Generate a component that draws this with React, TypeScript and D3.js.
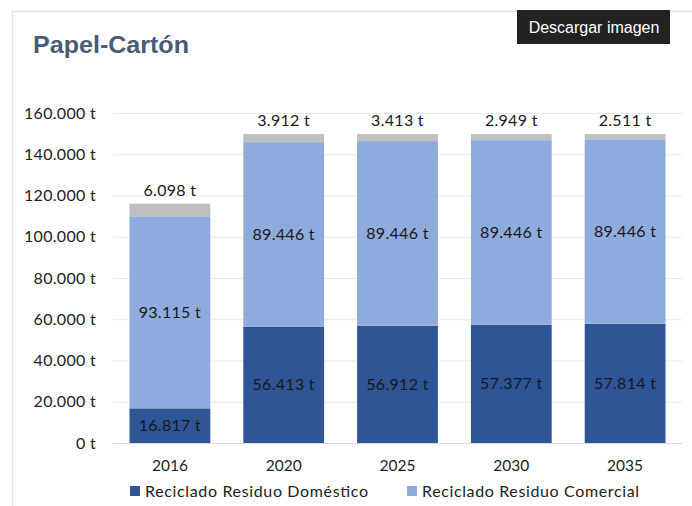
import React, { useEffect, useRef } from 'react';
import * as d3 from 'd3';

const years = ['2016', '2020', '2025', '2030', '2035'];
const domestico = [16817, 56413, 56912, 57377, 57814];
const comercial = [93115, 89446, 89446, 89446, 89446];
const resto = [6098, 3912, 3413, 2949, 2511];
const yTicks = [0, 20000, 40000, 60000, 80000, 100000, 120000, 140000, 160000];
const seriesNames = ['Reciclado Residuo Doméstico', 'Reciclado Residuo Comercial'];

const colors = ['#2f5597', '#8faadc', '#bfbfbf'];
const font = 'Lato, "Open Sans", sans-serif';

const locale = d3.formatLocale({ decimal: ',', thousands: '.', grouping: [3], currency: ['', ' €'] });
const fmt = (v: number) => `${locale.format(',d')(v)} t`;

const App: React.FC = () => {
  const svgRef = useRef<SVGSVGElement>(null);

  useEffect(() => {
    if (!svgRef.current) return;
    const svg = d3.select(svgRef.current);
    svg.selectAll('*').remove();

    const width = 692;
    const height = 506;
    svg.attr('width', width).attr('height', height);

    // frame
    svg.append('path')
      .attr('d', `M12.5,${height} L12.5,11.5 L${width},11.5`)
      .attr('fill', 'none')
      .attr('stroke', '#e3e3e3')
      .attr('stroke-width', 1.5);

    // title
    svg.append('text')
      .attr('x', 33)
      .attr('y', 53)
      .attr('font-family', '"Liberation Sans", Arial, sans-serif')
      .attr('font-weight', 'bold')
      .attr('font-size', 23.5)
      .attr('textLength', 156)
      .attr('lengthAdjust', 'spacingAndGlyphs')
      .attr('fill', '#4b5b75')
      .text('Papel-Cartón');

    // button
    svg.append('rect')
      .attr('x', 517).attr('y', 10).attr('width', 153).attr('height', 34)
      .attr('fill', '#222222');
    svg.append('text')
      .attr('x', 594).attr('y', 33)
      .attr('text-anchor', 'middle')
      .attr('font-family', '"Liberation Sans", Arial, sans-serif')
      .attr('font-size', 16)
      .attr('fill', '#ffffff')
      .text('Descargar imagen');

    const x = d3.scaleBand().domain(years).range([113, 682]).paddingInner(0.29).paddingOuter(0.145);
    const y = d3.scaleLinear().domain([0, 160000]).range([443, 113]);

    // gridlines
    svg.append('g')
      .selectAll('line')
      .data(yTicks)
      .enter()
      .append('line')
      .attr('x1', 113).attr('x2', 682)
      .attr('y1', d => y(d) + 0.5).attr('y2', d => y(d) + 0.5)
      .attr('stroke', d => (d === 0 ? '#d9d9d9' : '#e4e9f2'))
      .attr('stroke-width', 1.2);

    // y labels
    svg.append('g')
      .selectAll('text')
      .data(yTicks)
      .enter()
      .append('text')
      .attr('x', 96)
      .attr('y', d => y(d) + 5.5)
      .attr('text-anchor', 'end')
      .attr('font-family', font)
      .attr('font-size', 16)
      .attr('letter-spacing', 0.3)
      .attr('fill', '#222')
      .text(d => fmt(d));

    const rows = years.map((yr, i) => ({ yr, a: domestico[i], b: comercial[i], c: resto[i] }));
    const stack = d3.stack<typeof rows[number]>().keys(['a', 'b', 'c'])(rows as any);

    stack.forEach((layer, li) => {
      svg.append('g')
        .selectAll('rect')
        .data(layer)
        .enter()
        .append('rect')
        .attr('x', d => x(d.data.yr)!)
        .attr('width', x.bandwidth())
        .attr('y', d => y(d[1]))
        .attr('height', d => y(d[0]) - y(d[1]))
        .attr('fill', colors[li]);

      svg.append('g')
        .selectAll('text')
        .data(layer)
        .enter()
        .append('text')
        .attr('x', d => x(d.data.yr)! + x.bandwidth() / 2)
        .attr('y', d => (li === 2 ? y(d[1]) - 8 : (y(d[0]) + y(d[1])) / 2 + 5.5))
        .attr('text-anchor', 'middle')
        .attr('font-family', font)
        .attr('font-size', 16)
        .attr('letter-spacing', 0.3)
        .attr('fill', '#1a1a1a')
        .text(d => fmt(d[1] - d[0]));
    });

    // x labels
    svg.append('g')
      .selectAll('text')
      .data(years)
      .enter()
      .append('text')
      .attr('x', d => x(d)! + x.bandwidth() / 2)
      .attr('y', 471)
      .attr('text-anchor', 'middle')
      .attr('font-family', font)
      .attr('font-size', 15.5)
      .attr('fill', '#222')
      .text(d => d);

    // legend
    const legendX = [130, 407];
    const legendLen = [223, 217];
    seriesNames.forEach((name, i) => {
      svg.append('rect')
        .attr('x', legendX[i]).attr('y', 486).attr('width', 10).attr('height', 10)
        .attr('fill', colors[i]);
      svg.append('text')
        .attr('x', legendX[i] + 15)
        .attr('y', 497)
        .attr('font-family', font)
        .attr('font-size', 16)
        .attr('textLength', legendLen[i])
        .attr('lengthAdjust', 'spacing')
        .attr('fill', '#222')
        .text(name);
    });
  }, []);

  return <svg ref={svgRef} style={{ position: 'absolute', left: 0, top: 0 }}></svg>;
};

export default App;
